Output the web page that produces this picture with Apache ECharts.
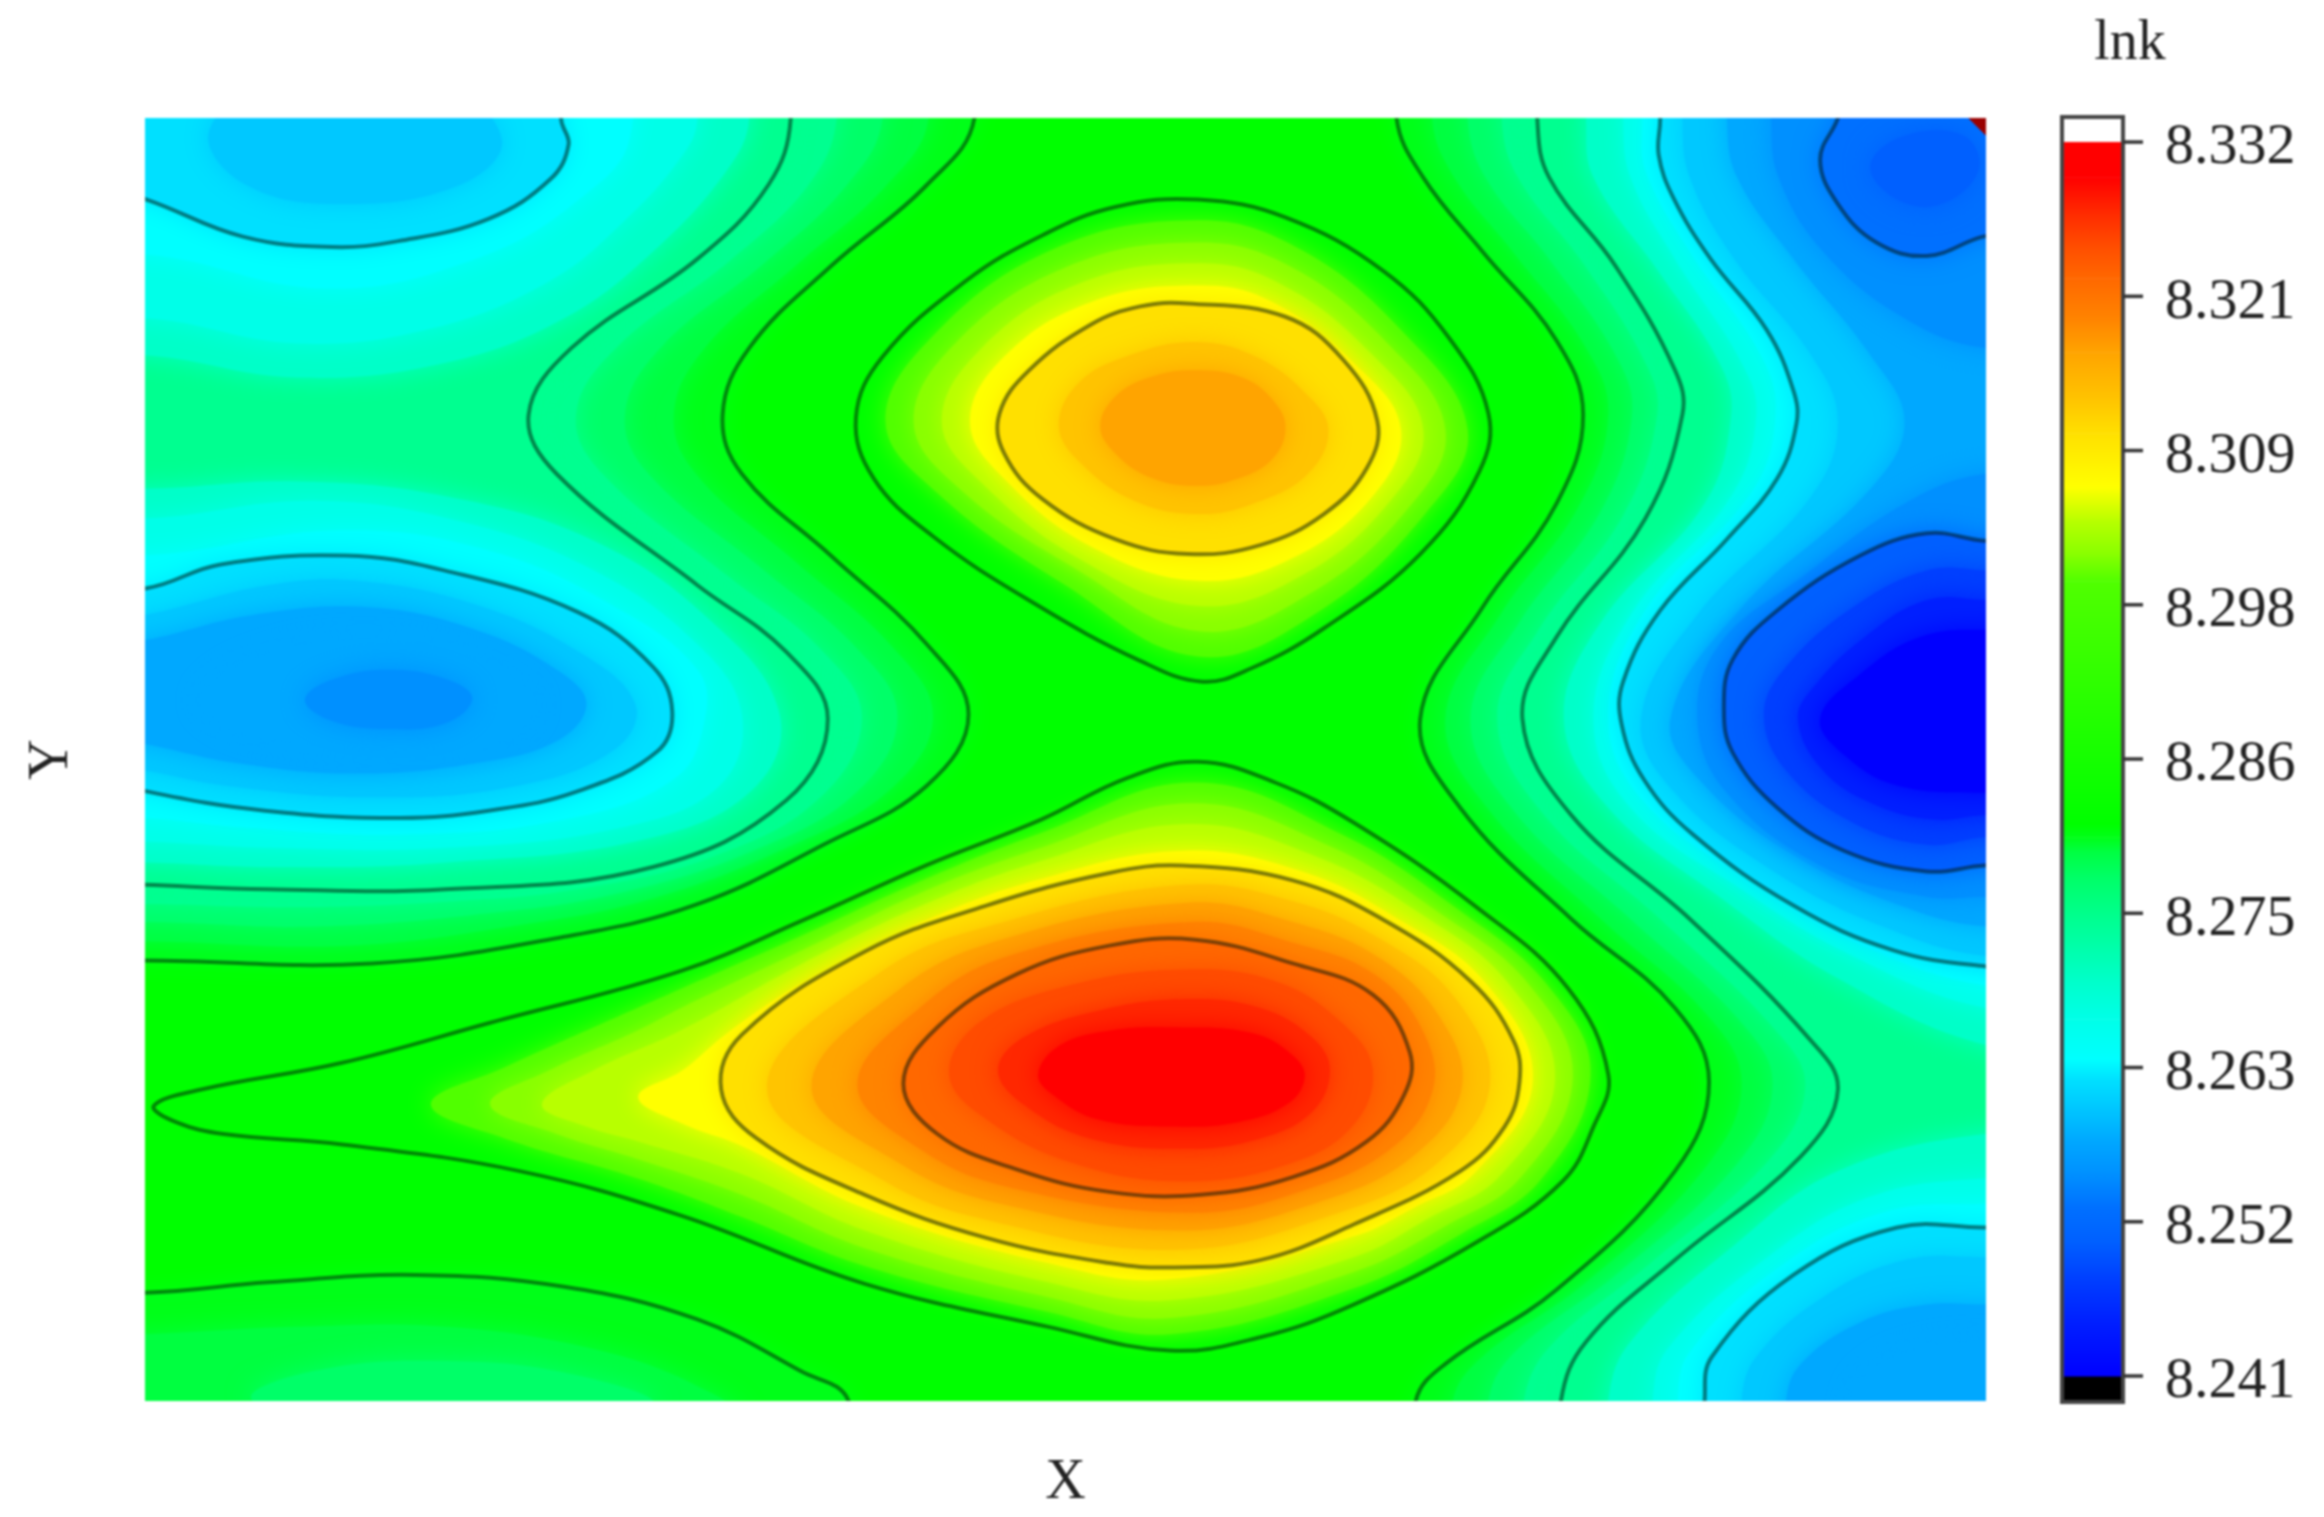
<!DOCTYPE html>
<html><head><meta charset="utf-8">
<style>html,body{margin:0;background:#fff}#main{width:2324px;height:1517px;filter:blur(1.2px)}</style>
<script src="https://cdn.jsdelivr.net/npm/echarts@6/dist/echarts.min.js"></script>
</head><body><div id="main"></div>
<script>
const BAND_LOW=[8.24051,8.2446,8.2478,8.2505,8.253,8.2555,8.258,8.2605,8.2625,8.264,8.267,8.270,8.2725,8.2745,8.2775,8.2795,8.2805,8.2815,8.2995,8.3015,8.304,8.3065,8.3105,8.313,8.3165,8.319,8.322,8.3245,8.327,8.3295];
const BAND_COLOR=['#0000ff','#0020ff','#0040ff','#0060ff','#0070ff','#0090ff','#00a8ff','#00c8ff','#00e0ff','#00ffff','#00ffe8','#00ffc8','#00ffa8','#00ff90','#00ff68','#00ff40','#00ff18','#00ff00','#50ff00','#88ff00','#b8ff00','#ffff00','#ffe000','#ffc400','#ffa400','#ff8400','#ff6800','#ff4c00','#ff2800','#ff0000'];
const OVER_COLOR='#9a0000';
const TICKS=[8.24051,8.25196,8.26341,8.27486,8.28631,8.29776,8.30921,8.32066,8.33211];
const BAR_MIN=8.23858, BAR_MAX=8.33397;

// Contours in the plot's X / Y units. Open contours are closed outside the plot and clipped by it.
const whole=[[-200,-200],[1500,-200],[1500,1100],[-200,1100]];
// west side, lnk below level
const w286=[[665,-100],[657,80],[625,125],[560,180],[505,235],[487,280],[500,320],[560,375],[625,435],[653,482],[625,530],[555,570],[470,610],[380,632],[250,650],[97,648],[-100,650],[-100,-100]];
const w283=[[630,-100],[626,80],[598,125],[537,179],[475,235],[454,280],[469,320],[537,380],[601,436],[629,483],[601,532],[530,572],[440,606],[350,624],[232,638],[97,635],[-100,635],[-100,-100]];
const w280=[[600,-100],[595,80],[571,125],[515,178],[445,235],[421,280],[437,320],[515,385],[577,437],[605,483],[577,535],[505,575],[415,603],[330,616],[215,625],[97,622],[-100,622],[-100,-100]];
const w277=[[570,-100],[564,80],[545,125],[492,176],[415,235],[388,280],[406,320],[492,390],[553,438],[581,484],[553,538],[480,578],[388,600],[305,608],[198,612],[97,610],[-100,610],[-100,-100]];
const w275=[[535,-100],[533,80],[518,125],[470,175],[385,235],[356,280],[375,320],[470,395],[530,440],[558,485],[530,540],[440,585],[300,600],[180,600],[97,597],[-100,590],[-100,-100]];
const tl271=[[-100,235],[97,240],[200,255],[300,245],[380,215],[440,170],[490,115],[505,80],[510,-100],[-100,-100]];
const ml271=[[-100,330],[97,330],[200,325],[300,335],[400,365],[480,420],[525,480],[510,530],[440,565],[300,582],[180,585],[97,582],[-100,580]];
const tl268=[[-100,215],[97,215],[200,232],[290,222],[370,190],[420,150],[460,105],[470,80],[475,-100],[-100,-100]];
const ml268=[[-100,350],[97,350],[210,338],[310,352],[400,385],[470,435],[500,482],[485,530],[420,558],[300,572],[180,572],[97,568],[-100,565]];
const tl265=[[-100,170],[97,172],[220,195],[320,175],[390,135],[425,90],[425,-100],[-100,-100]];
const ml265=[[-100,375],[97,375],[230,358],[330,372],[415,410],[470,452],[475,485],[455,525],[380,553],[270,563],[160,558],[97,552],[-100,545]];
const tl263=[[-100,70],[98,135],[163,160],[223,167],[268,163],[329,148],[371,121],[383,98],[378,81],[370,-100],[-100,-100]];
const ml263=[[-100,420],[98,397],[148,381],[232,375],[299,385],[389,413],[440,450],[453,480],[443,507],[389,534],[329,547],[269,552],[178,547],[98,534],[-100,490]];
const tlA=[[140,90],[180,60],[300,60],[338,95],[310,125],[230,138],[165,125]];
const mlA=[[-100,450],[97,415],[180,395],[240,392],[320,408],[390,440],[428,475],[415,505],[350,530],[250,538],[150,530],[97,520],[-100,490]];
const mlB=[[-100,465],[97,432],[170,415],[250,410],[320,425],[375,452],[395,475],[375,500],[320,515],[240,522],[160,515],[97,502]];
const mlC=[[135,470],[170,445],[240,432],[310,442],[355,465],[360,480],[335,500],[260,505],[180,498],[145,485]];
const mlD=[[205,472],[225,458],[265,452],[305,460],[318,472],[300,488],[260,492],[222,486]];
// bottom-left
const bl286=[[-100,872],[97,872],[180,865],[280,860],[380,868],[470,890],[540,925],[572,945],[590,1050],[-100,1050]];
const bl283=[[-100,905],[97,900],[200,895],[300,895],[400,910],[470,935],[500,960],[500,1050],[-100,1050]];
const bl280=[[170,945],[210,925],[300,918],[390,928],[440,950],[300,1000]];
// east side
const e286=[[930,-100],[942,80],[960,120],[1000,170],[1050,230],[1068,280],[1050,340],[1000,410],[958,485],[985,545],[1060,620],[1130,680],[1153,730],[1130,790],[1050,870],[975,920],[955,945],[945,1050],[1450,1050],[1450,-100]];
const e283=[[960,-100],[966,80],[981,120],[1022,172],[1070,235],[1085,280],[1065,342],[1012,415],[975,485],[1004,546],[1080,620],[1152,685],[1175,731],[1151,787],[1070,865],[999,916],[980,945],[970,1050],[1450,1050],[1450,-100]];
const e280=[[985,-100],[990,80],[1002,120],[1045,175],[1090,240],[1101,280],[1080,345],[1025,420],[992,485],[1022,548],[1100,620],[1175,690],[1196,732],[1172,785],[1090,860],[1022,912],[1004,945],[995,1050],[1450,1050],[1450,-100]];
const e277=[[1010,-100],[1013,80],[1024,120],[1068,178],[1110,245],[1118,280],[1095,348],[1038,425],[1010,485],[1041,549],[1120,620],[1198,695],[1218,733],[1194,782],[1110,855],[1046,908],[1028,945],[1020,1050],[1450,1050],[1450,-100]];
const e275=[[1030,-100],[1037,80],[1045,120],[1090,180],[1130,250],[1135,280],[1110,350],[1050,430],[1027,485],[1060,550],[1140,620],[1220,700],[1240,735],[1215,780],[1130,850],[1070,905],[1053,945],[1045,1050],[1450,1050],[1450,-100]];
const n271=[[1065,-100],[1070,80],[1075,120],[1120,185],[1160,245],[1168,280],[1150,340],[1080,420],[1055,485],[1085,545],[1160,605],[1240,660],[1340,705],[1450,715],[1450,-100]];
const s271=[[1085,945],[1100,905],[1170,840],[1240,790],[1340,765],[1450,765],[1450,1050],[1080,1050]];
const n268=[[1090,-100],[1095,80],[1100,120],[1130,175],[1175,245],[1185,280],[1168,335],[1100,415],[1075,485],[1100,545],[1175,600],[1250,645],[1340,680],[1450,685],[1450,-100]];
const s268=[[1115,945],[1125,910],[1190,850],[1260,808],[1340,795],[1450,795],[1450,1050],[1110,1050]];
const n265=[[1105,-100],[1108,80],[1110,115],[1140,170],[1188,240],[1198,280],[1182,332],[1110,412],[1085,485],[1110,542],[1182,595],[1255,637],[1340,665],[1450,670],[1450,-100]];
const s265=[[1132,945],[1140,912],[1200,855],[1270,818],[1340,812],[1450,810],[1450,1050],[1128,1050]];
const n263=[[1115,-100],[1120,80],[1119,105],[1129,134],[1154,175],[1192,223],[1210,264],[1212,286],[1199,323],[1165,364],[1120,412],[1095,460],[1094,489],[1109,526],[1142,563],[1210,611],[1277,641],[1340,652],[1450,660],[1450,-100]];
const s263=[[1150,945],[1155,915],[1210,860],[1280,828],[1340,828],[1450,825],[1450,1050],[1145,1050]];
const er262=[[1130,-100],[1135,80],[1140,120],[1170,175],[1222,240],[1240,285],[1222,335],[1145,415],[1107,485],[1130,535],[1200,590],[1270,625],[1340,645],[1450,645],[1450,-100]];
const er259=[[1160,-100],[1165,80],[1172,120],[1210,175],[1262,240],[1285,285],[1262,330],[1175,410],[1127,485],[1150,530],[1215,580],[1285,612],[1340,625],[1450,625],[1450,-100]];
const er256n=[[1190,-100],[1195,80],[1200,120],[1230,170],[1285,215],[1340,235],[1450,235],[1450,-100]];
const er256m=[[1450,320],[1340,320],[1285,340],[1215,390],[1160,435],[1145,485],[1165,535],[1230,585],[1300,605],[1340,605],[1450,605]];
const n252=[[1300,-100],[1240,80],[1228,108],[1240,138],[1266,164],[1300,173],[1338,160],[1450,135],[1450,-100]];
const n250=[[1262,112],[1285,92],[1325,92],[1335,115],[1310,138],[1280,135]];
const m252=[[1450,370],[1339,365],[1300,360],[1255,375],[1199,412],[1169,445],[1163,478],[1169,508],[1199,545],[1244,574],[1300,588],[1339,584],[1450,580]];
const m249=[[1450,390],[1340,385],[1300,385],[1250,410],[1205,450],[1190,482],[1205,520],[1250,555],[1300,570],[1340,565],[1450,565]];
const m247=[[1450,410],[1340,405],[1300,405],[1258,430],[1225,462],[1213,485],[1230,520],[1265,543],[1305,553],[1340,550],[1450,548]];
const m244=[[1450,430],[1340,425],[1295,430],[1255,455],[1228,485],[1245,510],[1280,530],[1340,535],[1450,535]];
const br262=[[1175,945],[1185,915],[1230,875],[1285,850],[1340,848],[1450,848],[1450,1050],[1172,1050]];
const br259=[[1205,945],[1215,920],[1255,892],[1300,880],[1340,880],[1450,880],[1450,1050],[1200,1050]];
const br257=[[1250,945],[1262,925],[1295,910],[1340,905],[1450,905],[1450,1050],[1248,1050]];
const corner=[[1300,52],[1328,80],[1340,92],[1372,124],[1372,52]];
// upper peak, lnk above level
const u298=[[808,135],[867,147],[933,183],[978,229],[1004,279],[998,318],[958,374],[893,424],[844,451],[811,460],[769,446],[697,407],[629,362],[589,323],[577,282],[595,241],[651,190],[703,159],[752,140]];
const u300=[[807,149],[874,167],[945,223],[990,290],[962,346],[889,413],[808,443],[717,394],[631,332],[597,285],[627,229],[709,169]];
const u302=[[806,164],[868,179],[935,231],[975,290],[950,343],[883,401],[809,426],[724,383],[647,330],[616,285],[644,232],[718,181]];
const u304=[[806,178],[862,191],[925,239],[960,290],[937,339],[877,389],[809,409],[731,379],[663,327],[635,285],[661,236],[727,192]];
const u306=[[806,193],[856,203],[915,247],[945,290],[925,336],[871,377],[809,392],[738,370],[679,325],[654,285],[678,240],[736,204]];
const u309=[[801,205],[867,214],[906,243],[929,284],[922,316],[893,347],[850,368],[801,374],[752,364],[703,337],[677,306],[674,279],[694,250],[736,219],[769,207]];
const u311=[[805,218],[850,226],[895,258],[913,290],[898,325],[858,350],[808,358],[755,348],[710,316],[694,285],[710,250],[750,226]];
const u313=[[805,231],[845,240],[880,265],[896,290],[882,320],[845,340],[808,347],[765,338],[728,312],[714,287],[728,258],[762,240]];
const u316=[[805,250],[838,255],[860,272],[867,290],[858,310],[835,323],[806,328],[775,322],[752,306],[742,288],[752,268],[775,255]];
// lower peak
const d298=[[103,746],[135,735],[230,717],[330,690],[459,655],[541,621],[624,584],[702,553],[760,525],[808,514],[860,528],[913,555],[996,612],[1058,667],[1085,725],[1075,760],[1054,797],[996,838],[913,880],[850,902],[789,911],[707,895],[583,866],[459,820],[350,790],[230,772],[150,765],[118,757]];
const d300=[[290,745],[340,720],[400,693],[459,667],[541,631],[624,593],[702,562],[806,528],[905,563],[984,614],[1045,666],[1073,725],[1040,795],[986,832],[913,869],[789,900],[707,885],[583,854],[500,821],[430,795],[340,768]];
const d302=[[330,745],[370,722],[430,695],[459,680],[541,641],[624,601],[702,572],[804,542],[897,571],[971,616],[1032,665],[1061,727],[1026,794],[975,827],[913,858],[789,889],[707,875],[583,842],[500,806],[430,782],[375,765]];
const d304=[[365,745],[400,722],[459,695],[541,650],[624,610],[702,581],[801,556],[888,578],[959,617],[1018,664],[1049,728],[1012,793],[965,821],[913,848],[789,877],[707,865],[583,830],[500,792],[430,770],[395,760]];
const d306=[[430,740],[460,722],[490,697],[541,663],[624,621],[702,593],[798,574],[878,588],[943,620],[1002,663],[1034,729],[995,791],[953,815],[913,834],[789,863],[707,852],[583,815],[500,773],[460,758]];
const d309=[[797,584],[872,594],[934,621],[992,662],[1021,702],[1025,730],[1015,760],[985,790],[913,826],[850,850],[790,855],[748,852],[665,835],[583,806],[510,768],[486,735],[500,698],[583,642],[665,611],[748,589]];
const d312=[[799,597],[872,608],[932,634],[982,674],[1005,732],[969,785],[903,818],[795,843],[670,824],[595,796],[517,734],[595,655],[677,622]];
const d315=[[801,609],[872,622],[930,646],[971,686],[986,734],[953,780],[892,810],[800,830],[675,812],[607,785],[547,733],[607,667],[675,634]];
const d318=[[804,622],[872,636],[928,658],[961,698],[966,737],[938,775],[882,802],[805,818],[681,801],[620,775],[578,732],[620,680],[680,645]];
const d321=[[806,634],[872,650],[926,671],[951,710],[947,739],[922,770],[872,794],[810,806],[748,804],[686,789],[632,765],[609,731],[632,693],[686,657],[748,638]];
const d324=[[800,654],[860,662],[905,690],[926,722],[912,760],[870,785],[800,797],[725,785],[665,755],[640,725],[660,690],[720,665]];
const d326=[[800,674],[850,680],[885,700],[897,722],[885,750],[850,768],[800,775],[735,768],[690,745],[673,722],[690,700],[740,682]];
const d329=[[790,693],[845,697],[872,712],[880,727],[868,745],[835,757],[790,760],[740,755],[712,740],[700,725],[715,705],[750,695]];

// [colour-band index, contour], painted in this order (-1 = above the colour-bar range)
const FILLS=[[17,whole],
 [16,w286],[16,e286],[16,bl286],[15,w283],[15,e283],[15,bl283],[14,w280],[14,e280],[14,bl280],[13,w277],[13,e277],[13,w275],[13,e275],
 [11,tl271],[11,ml271],[11,n271],[11,s271],[10,tl268],[10,ml268],[10,n268],[10,s268],[9,tl265],[9,ml265],[9,n265],[9,s265],
 [8,tl263],[8,ml263],[8,n263],[8,s263],[7,tlA],[7,mlA],[7,er262],[7,br262],[6,mlB],[6,er259],[6,br259],[6,mlC],[6,br257],[5,mlD],[5,er256n],[5,er256m],
 [4,n252],[3,n250],[3,m252],[2,m249],[1,m247],[0,m244],
 [18,u300],[19,u302],[20,u304],[21,u306],[22,u309],[22,u311],[23,u313],[24,u316],
 [18,d300],[19,d302],[20,d304],[21,d306],[22,d309],[23,d312],[24,d315],[25,d318],[26,d321],[27,d324],[28,d326],[29,d329],[-1,corner]];
// contour lines drawn at the labelled levels
const LINES=[w286,w275,tl263,ml263,bl286,e286,e275,n263,s263,n252,m252,u298,u309,d298,d309,d321];

const BAR_ROWS=BAND_LOW.map((v,i)=>[v,i+1<BAND_LOW.length?BAND_LOW[i+1]:TICKS[8],BAND_COLOR[i],BAND_COLOR[Math.min(i+1,BAND_COLOR.length-1)]]);
BAR_ROWS.unshift([BAR_MIN,BAND_LOW[0],'#000000','#000000']);
const SERIF='Liberation Serif';

function renderFill(params,api){
  const f=FILLS[params.dataIndex];
  const c=f[0]<0?OVER_COLOR:BAND_COLOR[f[0]];
  return {type:'polygon',shape:{points:f[1].map(p=>api.coord(p)),smooth:f[0]<0?0:0.4},style:{fill:c,shadowBlur:f[0]<0?0:26,shadowColor:c}};
}
function renderLine(params,api){
  const f=LINES[params.dataIndex];
  return {type:'polygon',shape:{points:f.map(p=>api.coord(p)),smooth:0.4},style:{fill:'none',stroke:'rgba(0,20,10,0.5)',lineWidth:4}};
}
function renderBar(params,api){
  const r=BAR_ROWS[params.dataIndex];
  const a=api.coord([0,r[1]]),b=api.coord([1,r[0]]);
  return {type:'rect',shape:{x:a[0],y:a[1],width:b[0]-a[0],height:b[1]-a[1]+0.5},
    style:{fill:new echarts.graphic.LinearGradient(0,1,0,0,[{offset:0,color:r[2]},{offset:1,color:r[3]}])}};
}
function renderTick(params,api){
  const a=api.coord([1,TICKS[params.dataIndex]]);
  return {type:'line',shape:{x1:a[0],y1:a[1],x2:a[0]+20,y2:a[1]},style:{stroke:'#333',lineWidth:3.5}};
}
const chart=echarts.init(document.getElementById('main'),null,{renderer:'canvas'});
chart.setOption({
  animation:false,
  backgroundColor:'#fff',
  title:{text:'lnk',left:2125,top:11,textAlign:'center',textStyle:{fontFamily:SERIF,fontSize:56,fontWeight:'normal',color:'#222'}},
  grid:[
    {left:145,top:118,width:1841,height:1283},
    {left:2062,top:117,width:61,height:1285,show:true,borderColor:'#444',borderWidth:4,backgroundColor:'transparent',z:10}
  ],
  xAxis:[
    {gridIndex:0,type:'value',min:97,max:1340,name:'X',nameLocation:'middle',nameGap:54,nameTextStyle:{fontFamily:SERIF,fontSize:56,color:'#222'},axisLine:{show:false},axisTick:{show:false},axisLabel:{show:false},splitLine:{show:false}},
    {gridIndex:1,type:'value',min:0,max:1,axisLine:{show:false},axisTick:{show:false},axisLabel:{show:false},splitLine:{show:false}}
  ],
  yAxis:[
    {gridIndex:0,type:'value',min:80,max:945,inverse:true,name:'Y',nameLocation:'middle',nameGap:65,nameTextStyle:{fontFamily:SERIF,fontSize:56,color:'#222'},axisLine:{show:false},axisTick:{show:false},axisLabel:{show:false},splitLine:{show:false}},
    {gridIndex:1,type:'value',position:'right',min:BAR_MIN,max:BAR_MAX,axisLine:{show:false},splitLine:{show:false},axisTick:{show:false},
     axisLabel:{show:true,margin:42,customValues:TICKS,formatter:v=>'{v|'+Number(v).toFixed(3)+'}',
       rich:{v:{fontFamily:SERIF,fontSize:58,color:'#222',padding:[12,0,0,0]}}}}
  ],
  series:[
    {type:'custom',name:'lnk',xAxisIndex:0,yAxisIndex:0,clip:true,silent:true,z:2,renderItem:renderFill,data:FILLS.map((f,i)=>[i,f[0]])},
    {type:'custom',name:'contours',xAxisIndex:0,yAxisIndex:0,clip:true,silent:true,z:3,renderItem:renderLine,data:LINES.map((f,i)=>[i,0])},
    {type:'custom',name:'bar',xAxisIndex:1,yAxisIndex:1,silent:true,z:2,renderItem:renderBar,data:BAR_ROWS.map(r=>[0,r[0]])},
    {type:'custom',name:'ticks',xAxisIndex:1,yAxisIndex:1,silent:true,z:11,renderItem:renderTick,data:TICKS.map(v=>[1,v])}
  ]
});
</script></body></html>
